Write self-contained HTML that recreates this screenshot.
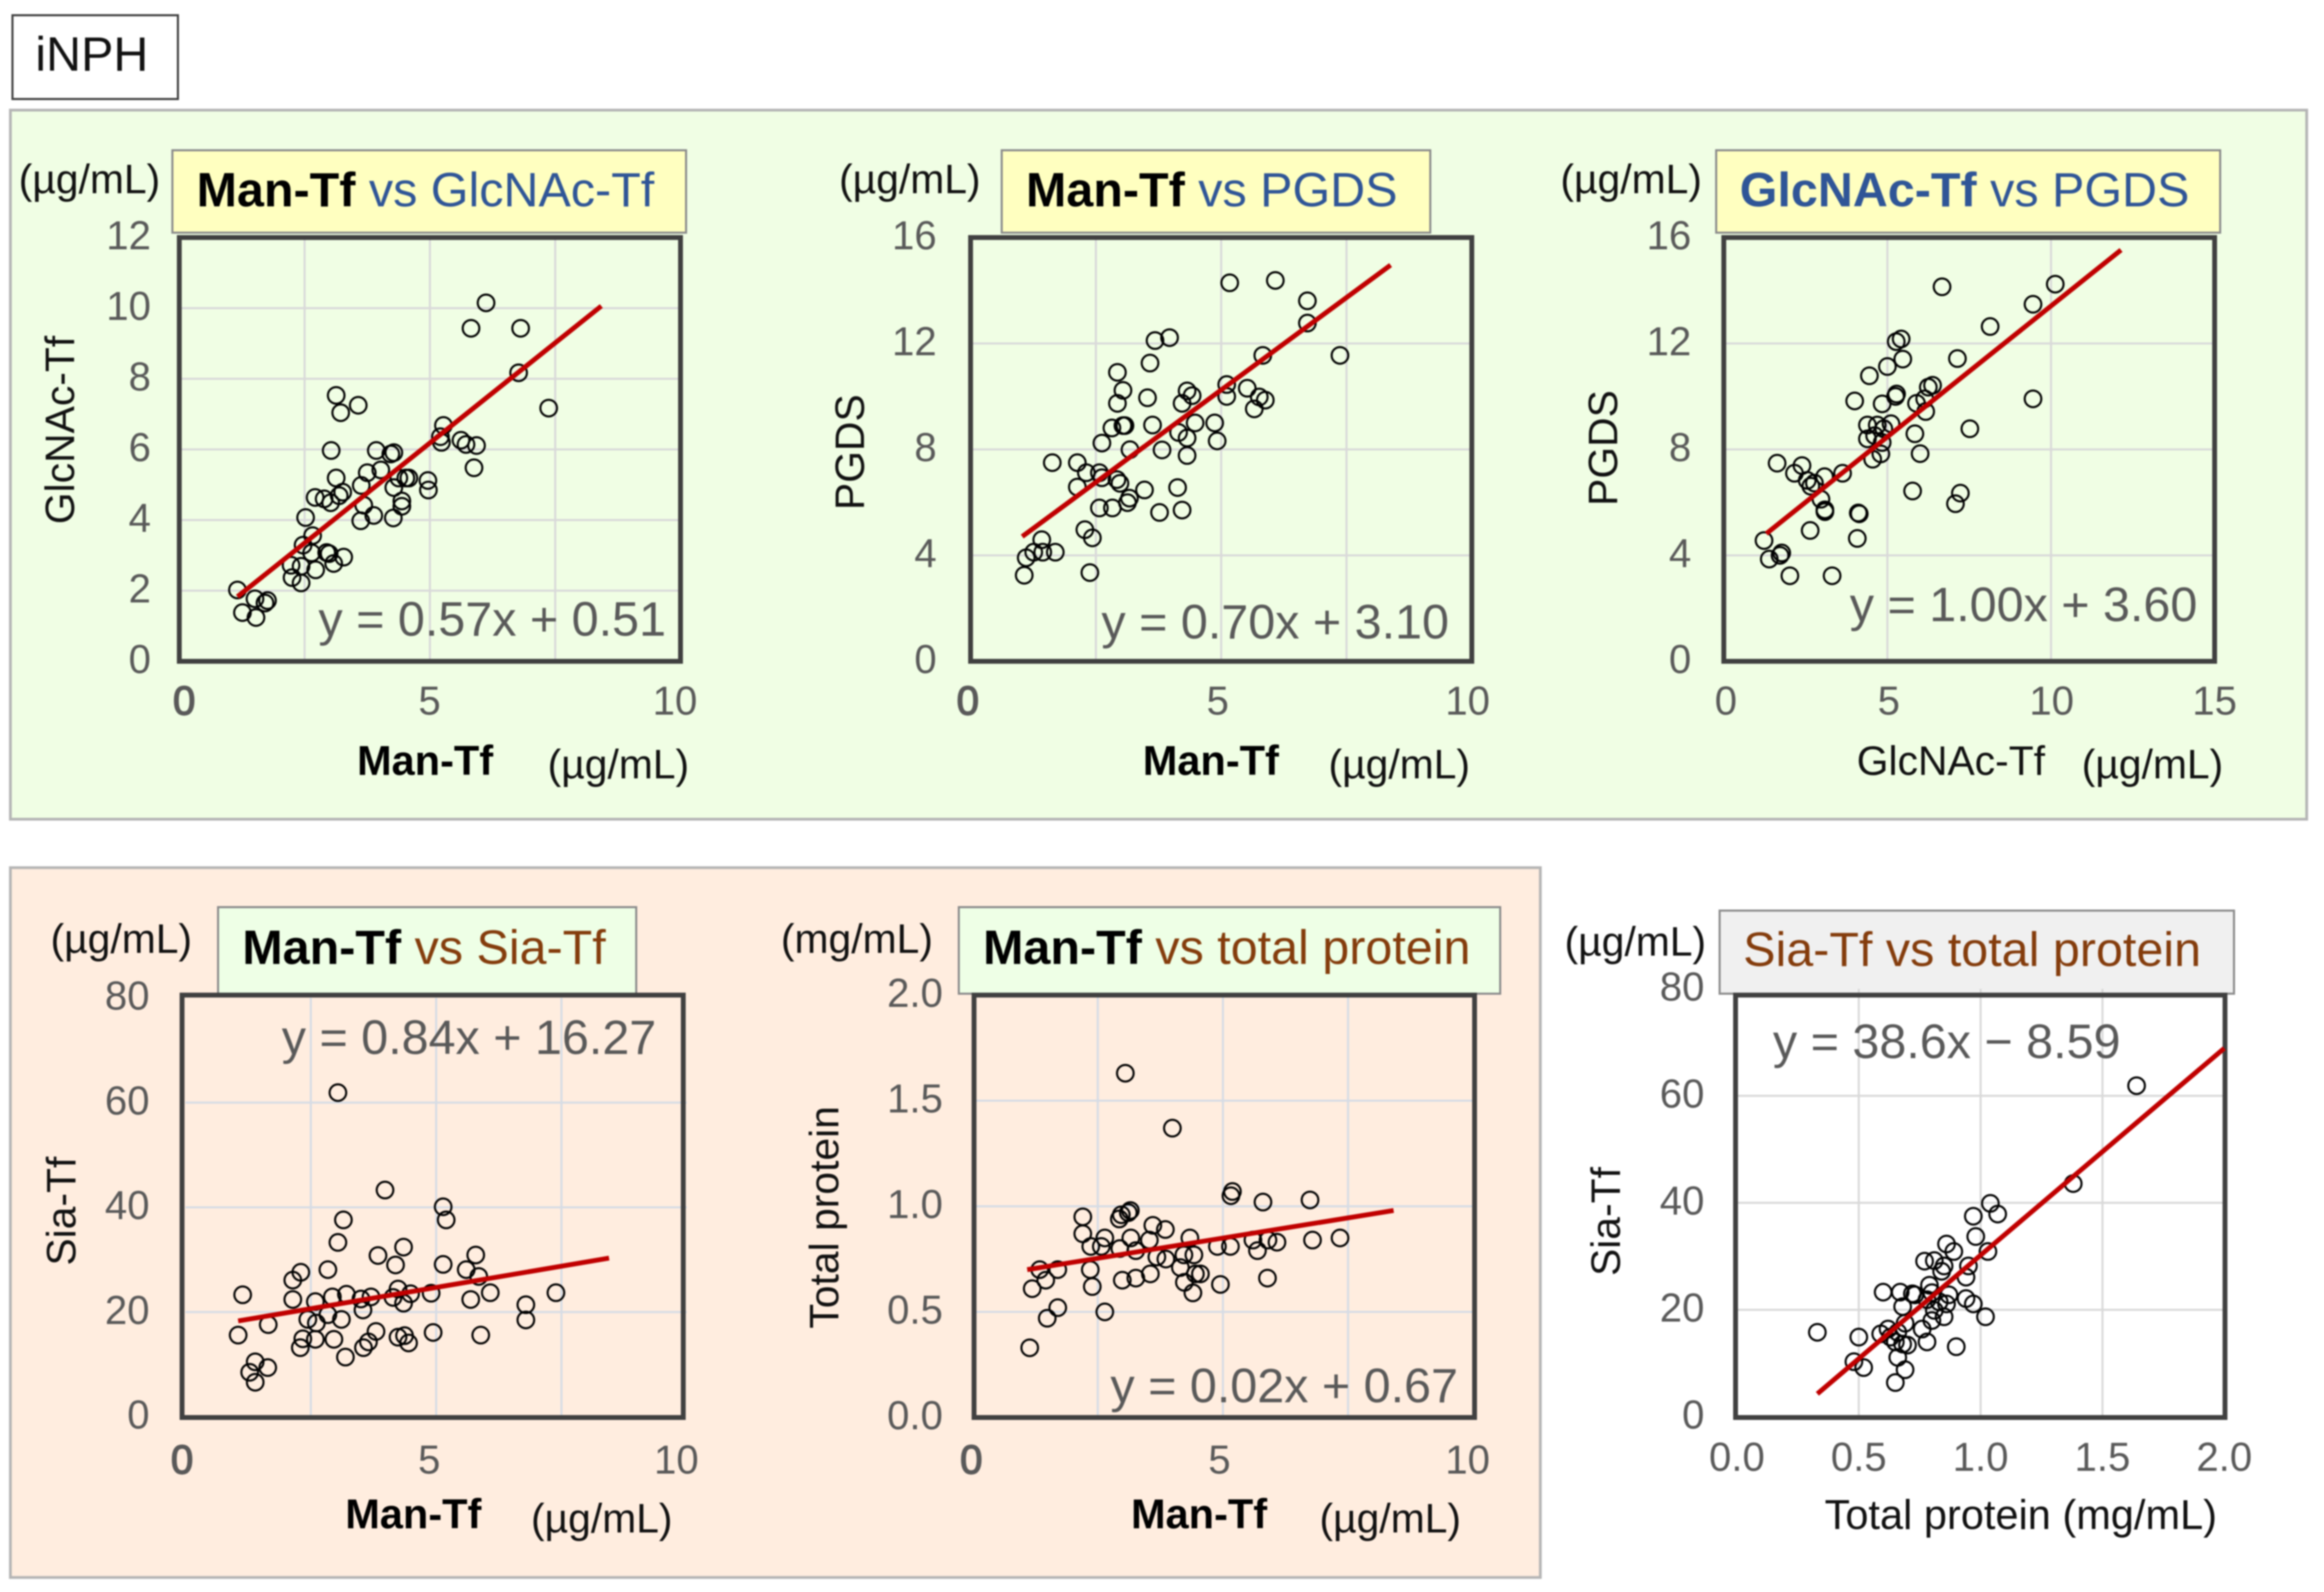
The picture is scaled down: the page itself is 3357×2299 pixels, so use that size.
<!DOCTYPE html>
<html lang="en">
<head>
<meta charset="utf-8">
<title>iNPH correlation scatter plots</title>
<style>
html,body{margin:0;padding:0;background:#fff;}
svg{display:block;filter:blur(1px);}
text{font-family:"Liberation Sans",sans-serif;}
.unit,.axt{font-size:59px;fill:#111;}
.axb{font-size:60px;font-weight:bold;fill:#000;}
.eq{font-size:70px;fill:#595959;}
.ttl{font-size:70px;}
.tick{font-size:58px;fill:#595959;}
</style>
</head>
<body>
<svg id="figure" xmlns="http://www.w3.org/2000/svg" width="3357" height="2299" viewBox="0 0 3357 2299">
<rect x="0" y="0" width="3357" height="2299" fill="#fff"/>
<g>
<rect x="18" y="22" width="239" height="121" fill="#fff" stroke="#404040" stroke-width="3"/>
<text x="51" y="102" font-size="70" fill="#111">iNPH</text>
</g>
<rect x="15" y="159" width="3317" height="1024" fill="#f0fee4" stroke="#b5b5b5" stroke-width="4"/>
<rect x="15" y="1253" width="2210" height="1025" fill="#ffeddf" stroke="#b5b5b5" stroke-width="4"/>

<g id="chart1">
<rect x="249" y="217" width="742" height="119" fill="#ffffc0" stroke="#8c8c8c" stroke-width="3"/>
<text class="ttl" x="284" y="298"><tspan font-weight="bold" fill="#000">Man-Tf</tspan><tspan fill="#2f5597"> vs GlcNAc-Tf</tspan></text>
<text class="unit" x="27" y="279">(µg/mL)</text>
<text class="axt" transform="translate(107,621) rotate(-90)" text-anchor="middle">GlcNAc-Tf</text>
<text class="axb" x="614" y="1119" text-anchor="middle">Man-Tf</text>
<text class="unit" x="791" y="1124">(µg/mL)</text>
</g>
<g id="chart2">
<rect x="1447" y="217" width="619" height="119" fill="#ffffc0" stroke="#8c8c8c" stroke-width="3"/>
<text class="ttl" x="1482" y="298"><tspan font-weight="bold" fill="#000">Man-Tf</tspan><tspan fill="#2f5597"> vs PGDS</tspan></text>
<text class="unit" x="1212" y="279">(µg/mL)</text>
<text class="axt" transform="translate(1248,653) rotate(-90)" text-anchor="middle">PGDS</text>
<text class="axb" x="1749" y="1119" text-anchor="middle">Man-Tf</text>
<text class="unit" x="1919" y="1124">(µg/mL)</text>
</g>
<g id="chart3">
<rect x="2479" y="217" width="728" height="119" fill="#ffffc0" stroke="#8c8c8c" stroke-width="3"/>
<text class="ttl" x="2513" y="298"><tspan font-weight="bold" fill="#2f5597">GlcNAc-Tf</tspan><tspan fill="#2f5597"> vs PGDS</tspan></text>
<text class="unit" x="2254" y="279">(µg/mL)</text>
<text class="axt" transform="translate(2336,647) rotate(-90)" text-anchor="middle">PGDS</text>
<text class="axt" x="2818" y="1119" text-anchor="middle">GlcNAc-Tf</text>
<text class="unit" x="3007" y="1124">(µg/mL)</text>
</g>
<g id="chart4">
<rect x="315" y="1310" width="604" height="125" fill="#eeffe6" stroke="#8c8c8c" stroke-width="3"/>
<text class="ttl" x="350" y="1392"><tspan font-weight="bold" fill="#000">Man-Tf</tspan><tspan fill="#843c0c"> vs Sia-Tf</tspan></text>
<text class="unit" x="73" y="1376">(µg/mL)</text>
<text class="axt" transform="translate(109,1749) rotate(-90)" text-anchor="middle">Sia-Tf</text>
<text class="axb" x="597" y="2207" text-anchor="middle">Man-Tf</text>
<text class="unit" x="767" y="2213">(µg/mL)</text>
</g>
<g id="chart5">
<rect x="1385" y="1310" width="782" height="125" fill="#eeffe6" stroke="#8c8c8c" stroke-width="3"/>
<text class="ttl" x="1420" y="1392"><tspan font-weight="bold" fill="#000">Man-Tf</tspan><tspan fill="#843c0c"> vs total protein</tspan></text>
<text class="unit" x="1128" y="1376">(mg/mL)</text>
<text class="axt" transform="translate(1211,1758) rotate(-90)" text-anchor="middle">Total protein</text>
<text class="axb" x="1732" y="2207" text-anchor="middle">Man-Tf</text>
<text class="unit" x="1906" y="2213">(µg/mL)</text>
</g>
<g id="chart6">
<rect x="2484" y="1315" width="743" height="120" fill="#f0f0f0" stroke="#8c8c8c" stroke-width="3"/>
<text class="ttl" x="2518" y="1395" fill="#843c0c">Sia-Tf vs total protein</text>
<text class="unit" x="2260" y="1380">(µg/mL)</text>
<text class="axt" transform="translate(2340,1764) rotate(-90)" text-anchor="middle">Sia-Tf</text>
<text class="axt" x="2919" y="2208" text-anchor="middle" style="font-size:60px">Total protein (mg/mL)</text>
</g>
</svg>
<script>
/* Chart 1: Man-Tf vs GlcNAc-Tf */
var chart1X = [6.12,5.82,6.81,6.77,7.37,3.13,3.57,3.22,5.27,5.21,5.23,5.62,5.72,5.93,5.88,3.03,3.93,4.22,4.28,3.75,4.02,3.13,3.63,4.38,4.58,4.52,4.28,4.96,4.97,2.71,2.89,3.02,3.19,3.26,3.68,4.44,4.44,2.52,3.62,3.88,4.27,2.66,2.47,2.64,2.94,2.99,3.28,3.08,2.72,2.43,2.23,2.25,2.43,1.16,1.51,1.76,1.71,1.26,1.53];
var chart1Y = [10.15,9.43,9.43,8.17,7.17,7.53,7.25,7.04,6.68,6.36,6.2,6.26,6.14,6.11,5.48,5.97,5.97,5.87,5.91,5.34,5.42,5.19,4.98,5.19,5.19,5.19,4.92,5.12,4.85,4.64,4.6,4.49,4.69,4.79,4.42,4.54,4.39,4.07,3.98,4.13,4.06,3.56,3.29,3.07,3.08,3.05,2.95,2.77,2.59,2.69,2.72,2.37,2.22,2.02,1.77,1.72,1.65,1.38,1.24];
var chart1LineX = [1.16,8.42];
var chart1LineY = [1.83,10.06];
var chart1XTicks = ["0","5","10"];
var chart1YTicks = ["0","2","4","6","8","10","12"];
var chart1XGrid = [2.5,5,7.5];
var chart1YGrid = [2,4,6,8,10];
var chart1Equation = "y = 0.57x + 0.51";

/* Chart 2: Man-Tf vs PGDS */
var chart2X = [5.17,6.08,6.72,6.72,7.37,3.68,3.97,3.58,2.93,3.04,2.93,3.53,5.83,5.11,5.11,5.52,4.32,4.42,4.22,5.76,5.88,5.66,2.82,3.04,3.08,3.63,4.48,4.87,4.15,4.32,4.92,2.62,3.18,3.82,4.32,1.63,2.13,2.31,2.57,2.62,2.92,2.98,2.13,3.47,4.13,3.17,3.13,2.57,2.83,3.77,4.22,2.28,2.43,1.42,1.69,1.44,1.26,1.11,2.38,1.07];
var chart2Y = [14.29,14.38,13.61,12.77,11.55,12.11,12.22,11.26,10.91,10.23,9.74,9.95,11.55,10.45,10.0,10.31,10.21,10.03,9.74,9.98,9.86,9.53,8.81,8.9,8.9,8.92,9.0,9.0,8.64,8.43,8.32,8.24,7.99,7.98,7.77,7.5,7.5,7.12,7.12,6.93,6.86,6.72,6.58,6.47,6.56,6.16,5.99,5.79,5.79,5.62,5.71,4.97,4.66,4.59,4.12,4.12,4.12,3.91,3.35,3.25];
var chart2LineX = [1.03,8.38];
var chart2LineY = [4.71,14.96];
var chart2XTicks = ["0","5","10"];
var chart2YTicks = ["0","4","8","12","16"];
var chart2XGrid = [2.5,5,7.5];
var chart2YGrid = [4,8,12];
var chart2Equation = "y = 0.70x + 3.10";

/* Chart 3: GlcNAc-Tf vs PGDS */
var chart3X = [6.67,10.13,9.45,8.14,5.27,5.42,5.47,7.14,5.0,4.45,5.28,5.25,4.0,4.84,6.38,6.25,6.14,5.89,6.17,9.45,4.39,4.69,5.11,4.89,7.52,5.84,4.39,4.61,4.84,4.8,4.55,6.0,1.63,2.39,2.16,3.08,3.63,2.55,2.77,2.66,2.97,3.09,3.09,4.11,4.14,5.77,7.23,7.08,2.64,4.08,1.23,1.77,1.72,1.39,2.02,3.31];
var chart3Y = [14.14,14.24,13.48,12.64,12.07,12.17,11.41,11.43,11.13,10.78,10.09,10.0,9.83,9.72,10.42,10.35,9.91,9.74,9.43,9.91,8.92,8.92,8.97,8.78,8.78,8.59,8.4,8.52,8.26,7.83,7.63,7.84,7.48,7.39,7.1,6.97,7.1,6.83,6.73,6.61,6.12,5.72,5.65,5.6,5.57,6.43,6.35,5.95,4.94,4.64,4.56,4.09,4.0,3.86,3.23,3.23];
var chart3LineX = [1.3,12.14];
var chart3LineY = [4.82,15.53];
var chart3XTicks = ["0","5","10","15"];
var chart3YTicks = ["0","4","8","12","16"];
var chart3XGrid = [5,10];
var chart3YGrid = [4,8,12];
var chart3Equation = "y = 1.00x + 3.60";

/* Chart 4: Man-Tf vs Sia-Tf */
var chart4X = [3.04,3.98,5.14,5.2,3.15,3.04,4.35,3.84,5.79,4.19,5.14,5.6,5.85,2.84,2.3,2.14,1.14,2.14,2.59,2.93,3.21,3.5,3.7,4.24,4.14,4.35,4.49,4.9,5.69,6.08,6.79,7.39,6.79,3.54,2.84,2.61,2.44,3.11,1.65,1.05,2.34,2.29,2.59,2.96,3.8,3.65,3.55,3.19,4.24,4.37,4.45,4.94,5.89,1.39,1.64,1.28,1.39];
var chart4Y = [61.9,43.3,40.1,37.6,37.6,33.3,32.4,30.8,30.9,29.0,29.1,28.1,26.8,28.1,27.6,26.1,23.3,22.4,22.0,22.9,23.4,22.5,22.9,24.4,22.8,21.7,23.5,23.6,22.4,23.7,21.4,23.7,18.5,20.4,19.5,17.9,18.6,18.6,17.6,15.6,14.9,13.2,14.8,14.8,16.3,14.3,13.2,11.4,15.2,15.5,14.1,16.1,15.6,10.5,9.4,8.5,6.6];
var chart4LineX = [1.05,8.45];
var chart4LineY = [18.3,30.3];
var chart4XTicks = ["0","5","10"];
var chart4YTicks = ["0","20","40","60","80"];
var chart4XGrid = [2.5,5,7.5];
var chart4YGrid = [20,40,60];
var chart4Equation = "y = 0.84x + 16.27";

/* Chart 5: Man-Tf vs total protein */
var chart5X = [3.05,3.99,5.19,5.16,5.8,6.74,6.79,7.34,6.08,5.9,5.6,5.69,5.15,4.89,5.89,4.95,2.2,2.2,2.36,2.64,2.57,2.93,2.97,3.11,3.15,3.16,2.94,3.6,3.85,3.53,3.26,3.68,3.86,4.34,4.22,4.42,4.15,2.35,1.34,1.7,1.46,1.19,2.39,2.99,3.26,3.55,4.23,4.4,4.45,4.55,1.7,1.49,2.64,1.14];
var chart5Y = [1.63,1.37,1.07,1.05,1.02,1.03,0.84,0.85,0.83,0.84,0.84,0.79,0.81,0.81,0.66,0.63,0.95,0.87,0.81,0.85,0.81,0.94,0.96,0.97,0.98,0.85,0.8,0.91,0.89,0.84,0.79,0.76,0.75,0.85,0.77,0.77,0.71,0.7,0.7,0.7,0.65,0.61,0.62,0.65,0.66,0.68,0.64,0.59,0.68,0.68,0.52,0.47,0.5,0.33];
var chart5LineX = [1.09,8.41];
var chart5LineY = [0.70,0.98];
var chart5XTicks = ["0","5","10"];
var chart5YTicks = ["0.0","0.5","1.0","1.5","2.0"];
var chart5XGrid = [2.5,5,7.5];
var chart5YGrid = [0.5,1.0,1.5];
var chart5Equation = "y = 0.02x + 0.67";

/* Chart 6: Total protein vs Sia-Tf */
var chart6X = [1.64,1.38,1.04,1.07,0.97,0.98,0.86,0.89,1.03,0.77,0.81,0.95,0.85,0.84,0.94,0.79,0.6,0.67,0.72,0.73,0.8,0.87,0.94,0.97,0.78,0.83,0.86,0.68,0.81,1.02,0.85,0.8,0.76,0.69,0.78,0.9,0.33,0.5,0.59,0.62,0.63,0.66,0.65,0.68,0.7,0.66,0.48,0.52,0.69,0.65];
var chart6Y = [61.9,43.6,39.9,37.9,37.5,33.7,32.3,30.9,30.9,29.1,29.2,28.2,28.2,27.2,26.1,24.6,23.3,23.3,23.0,22.8,23.2,22.8,22.1,21.1,21.9,21.5,21.1,20.6,19.9,18.7,18.7,18.0,16.4,17.5,14.0,13.1,15.8,14.9,15.5,16.4,14.9,15.8,14.0,13.6,13.4,11.1,10.3,9.2,8.8,6.4];
var chart6LineX = [0.33,2.0];
var chart6LineY = [4.3,68.9];
var chart6XTicks = ["0.0","0.5","1.0","1.5","2.0"];
var chart6YTicks = ["0","20","40","60","80"];
var chart6XGrid = [0.5,1.0,1.5];
var chart6YGrid = [20,40,60];
var chart6Equation = "y = 38.6x \u2212 8.59";

var SVGNS = "http://www.w3.org/2000/svg";

function makeScale(d0, d1, r0, r1) {
  return function (v) { return r0 + (v - d0) * (r1 - r0) / (d1 - d0); };
}

function drawChart(c) {
  var root = document.getElementById(c.id);
  var xScale = makeScale(c.xDomain[0], c.xDomain[1], c.plot.left, c.plot.right);
  var yScale = makeScale(c.yDomain[0], c.yDomain[1], c.plot.bottom, c.plot.top);
  var i, el;

  for (i = 0; i < c.xGrid.length; i++) {
    el = document.createElementNS(SVGNS, "line");
    
    
    el.setAttribute("x1", xScale(c.xGrid[i]));
    el.setAttribute("x2", xScale(c.xGrid[i]));
    el.setAttribute("y1", c.plot.top);
    el.setAttribute("y2", c.plot.bottom);
    el.setAttribute("stroke", c.gridColor);
    el.setAttribute("stroke-width", "3");
    root.appendChild(el);
  }
  for (i = 0; i < c.yGrid.length; i++) {
    el = document.createElementNS(SVGNS, "line");
    
    
    el.setAttribute("x1", c.plot.left);
    el.setAttribute("x2", c.plot.right);
    el.setAttribute("y1", yScale(c.yGrid[i]));
    el.setAttribute("y2", yScale(c.yGrid[i]));
    el.setAttribute("stroke", c.gridColor);
    el.setAttribute("stroke-width", "3");
    root.appendChild(el);
  }

  el = document.createElementNS(SVGNS, "rect");
  
  
  el.setAttribute("x", c.frame.left);
  el.setAttribute("y", c.frame.top);
  el.setAttribute("width", c.frame.right - c.frame.left);
  el.setAttribute("height", c.frame.bottom - c.frame.top);
  el.setAttribute("fill", "none");
  el.setAttribute("stroke", "#404040");
  el.setAttribute("stroke-width", "7");
  root.appendChild(el);

  for (i = 0; i < c.px.length; i++) {
    el = document.createElementNS(SVGNS, "circle");
    
    
    el.setAttribute("cx", xScale(c.px[i]));
    el.setAttribute("cy", yScale(c.py[i]));
    el.setAttribute("r", "12");
    el.setAttribute("fill", "none");
    el.setAttribute("stroke", "#000");
    el.setAttribute("stroke-width", "3");
    root.appendChild(el);
  }

  el = document.createElementNS(SVGNS, "line");
  
  
  el.setAttribute("x1", xScale(c.lineX[0]));
  el.setAttribute("y1", yScale(c.lineY[0]));
  el.setAttribute("x2", xScale(c.lineX[1]));
  el.setAttribute("y2", yScale(c.lineY[1]));
  el.setAttribute("stroke", "#c00000");
  el.setAttribute("stroke-width", "7");
  root.appendChild(el);

  var xLabelScale = makeScale(c.xDomain[0], c.xDomain[1], c.xLabelRange[0], c.xLabelRange[1]);
  for (i = 0; i < c.xTicks.length; i++) {
    el = document.createElementNS(SVGNS, "text");
    
    
    el.setAttribute("class", "tick");
    el.setAttribute("x", xLabelScale(Number(c.xTicks[i])));
    el.setAttribute("y", c.xLabelY);
    el.setAttribute("text-anchor", "middle");
    if (c.heavyX && i === 0) {
      el.setAttribute("stroke", "#595959");
      el.setAttribute("stroke-width", "2");
    }
    el.textContent = c.xTicks[i];
    root.appendChild(el);
  }
  for (i = 0; i < c.yTicks.length; i++) {
    el = document.createElementNS(SVGNS, "text");
    
    
    el.setAttribute("class", "tick");
    el.setAttribute("x", c.yLabelX);
    el.setAttribute("y", yScale(Number(c.yTicks[i])) + 17);
    el.setAttribute("text-anchor", "end");
    el.textContent = c.yTicks[i];
    root.appendChild(el);
  }

  el = document.createElementNS(SVGNS, "text");
  
  
  el.setAttribute("class", "eq");
  el.setAttribute("x", c.eqX);
  el.setAttribute("y", c.eqY);
  el.textContent = c.equation;
  root.appendChild(el);
}

drawChart({id:"chart1", px:chart1X, py:chart1Y, lineX:chart1LineX, lineY:chart1LineY, xTicks:chart1XTicks, yTicks:chart1YTicks, xGrid:chart1XGrid, yGrid:chart1YGrid, equation:chart1Equation,
  xDomain:[0,10], yDomain:[0,12], frame:{left:259,right:983,top:343,bottom:955}, plot:{left:259,right:983,top:343,bottom:955}, gridColor:"#d9d9d9", xLabelRange:[266,975], xLabelY:1032, yLabelX:218, eqX:460, eqY:918, heavyX:true});
drawChart({id:"chart2", px:chart2X, py:chart2Y, lineX:chart2LineX, lineY:chart2LineY, xTicks:chart2XTicks, yTicks:chart2YTicks, xGrid:chart2XGrid, yGrid:chart2YGrid, equation:chart2Equation,
  xDomain:[0,10], yDomain:[0,16], frame:{left:1402,right:2126,top:343,bottom:955}, plot:{left:1402,right:2126,top:343,bottom:955}, gridColor:"#d9d9d9", xLabelRange:[1398,2120], xLabelY:1032, yLabelX:1353, eqX:1591, eqY:922, heavyX:true});
drawChart({id:"chart3", px:chart3X, py:chart3Y, lineX:chart3LineX, lineY:chart3LineY, xTicks:chart3XTicks, yTicks:chart3YTicks, xGrid:chart3XGrid, yGrid:chart3YGrid, equation:chart3Equation,
  xDomain:[0,15], yDomain:[0,16], frame:{left:2490,right:3199,top:343,bottom:955}, plot:{left:2490,right:3199,top:343,bottom:955}, gridColor:"#d9d9d9", xLabelRange:[2493,3199], xLabelY:1032, yLabelX:2443, eqX:2672, eqY:897, heavyX:false});
drawChart({id:"chart4", px:chart4X, py:chart4Y, lineX:chart4LineX, lineY:chart4LineY, xTicks:chart4XTicks, yTicks:chart4YTicks, xGrid:chart4XGrid, yGrid:chart4YGrid, equation:chart4Equation,
  xDomain:[0,10], yDomain:[0,80], frame:{left:263,right:987,top:1437,bottom:2047}, plot:{left:268,right:992,top:1441,bottom:2046}, gridColor:"#d6dce5", xLabelRange:[263,977], xLabelY:2128, yLabelX:216, eqX:407, eqY:1522, heavyX:true});
drawChart({id:"chart5", px:chart5X, py:chart5Y, lineX:chart5LineX, lineY:chart5LineY, xTicks:chart5XTicks, yTicks:chart5YTicks, xGrid:chart5XGrid, yGrid:chart5YGrid, equation:chart5Equation,
  xDomain:[0,10], yDomain:[0,2], frame:{left:1407,right:2130,top:1437,bottom:2047}, plot:{left:1405,right:2128,top:1437,bottom:2047}, gridColor:"#d6dce5", xLabelRange:[1403,2120], xLabelY:2128, yLabelX:1362, eqX:1604, eqY:2025, heavyX:true});
drawChart({id:"chart6", px:chart6X, py:chart6Y, lineX:chart6LineX, lineY:chart6LineY, xTicks:chart6XTicks, yTicks:chart6YTicks, xGrid:chart6XGrid, yGrid:chart6YGrid, equation:chart6Equation,
  xDomain:[0,2], yDomain:[0,80], frame:{left:2507,right:3214,top:1437,bottom:2047}, plot:{left:2509,right:3213,top:1428,bottom:2046}, gridColor:"#d9d9d9", xLabelRange:[2509,3213], xLabelY:2124, yLabelX:2462, eqX:2561, eqY:1528, heavyX:false});
</script>
</body>
</html>
